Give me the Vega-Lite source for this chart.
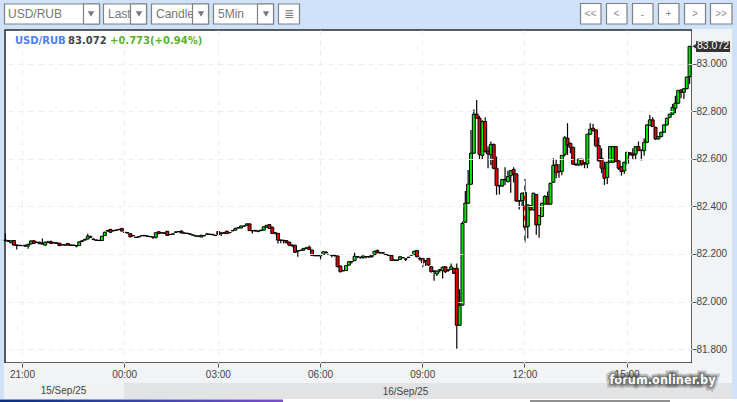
{"$schema":"https://vega.github.io/schema/vega-lite/v6.json","width":687,"height":333,"autosize":{"type":"none"},"padding":{"left":5,"top":30,"right":45,"bottom":39},"background":"#cfe2f9","view":{"fill":"#ffffff","stroke":"#2a2a2a","strokeWidth":1.5},
"data":{"values":[
{"t":"20:30","o":82.258,"h":82.286,"l":82.251,"c":82.256},{"t":"20:35","o":82.256,"h":82.258,"l":82.253,"c":82.253},{"t":"20:40","o":82.247,"h":82.256,"l":82.245,"c":82.255},{"t":"20:45","o":82.256,"h":82.258,"l":82.235,"c":82.237},{"t":"20:50","o":82.237,"h":82.24,"l":82.219,"c":82.236},{"t":"20:55","o":82.236,"h":82.238,"l":82.232,"c":82.235},
{"t":"21:00","o":82.235,"h":82.239,"l":82.232,"c":82.236},{"t":"21:05","o":82.236,"h":82.238,"l":82.229,"c":82.233},{"t":"21:10","o":82.233,"h":82.243,"l":82.222,"c":82.24},{"t":"21:15","o":82.242,"h":82.257,"l":82.24,"c":82.254},{"t":"21:20","o":82.255,"h":82.258,"l":82.243,"c":82.244},{"t":"21:25","o":82.248,"h":82.252,"l":82.246,"c":82.249},
{"t":"21:30","o":82.249,"h":82.251,"l":82.241,"c":82.243},{"t":"21:35","o":82.243,"h":82.265,"l":82.24,"c":82.242},{"t":"21:40","o":82.237,"h":82.252,"l":82.235,"c":82.249},{"t":"21:45","o":82.249,"h":82.255,"l":82.247,"c":82.25},{"t":"21:50","o":82.251,"h":82.256,"l":82.243,"c":82.244},{"t":"21:55","o":82.248,"h":82.25,"l":82.245,"c":82.246},
{"t":"22:00","o":82.246,"h":82.248,"l":82.242,"c":82.244},{"t":"22:05","o":82.245,"h":82.247,"l":82.233,"c":82.235},{"t":"22:10","o":82.239,"h":82.241,"l":82.236,"c":82.238},{"t":"22:15","o":82.238,"h":82.24,"l":82.235,"c":82.237},{"t":"22:20","o":82.244,"h":82.246,"l":82.236,"c":82.237},{"t":"22:25","o":82.237,"h":82.239,"l":82.235,"c":82.236},
{"t":"22:30","o":82.237,"h":82.238,"l":82.234,"c":82.236},{"t":"22:35","o":82.235,"h":82.237,"l":82.228,"c":82.233},{"t":"22:40","o":82.235,"h":82.253,"l":82.233,"c":82.25},{"t":"22:45","o":82.252,"h":82.258,"l":82.25,"c":82.255},{"t":"22:50","o":82.258,"h":82.264,"l":82.256,"c":82.261},{"t":"22:55","o":82.263,"h":82.285,"l":82.261,"c":82.275},
{"t":"23:00","o":82.272,"h":82.277,"l":82.267,"c":82.27},{"t":"23:05","o":82.262,"h":82.266,"l":82.26,"c":82.26},{"t":"23:10","o":82.258,"h":82.26,"l":82.255,"c":82.257},{"t":"23:15","o":82.256,"h":82.259,"l":82.254,"c":82.257},{"t":"23:20","o":82.256,"h":82.276,"l":82.254,"c":82.274},{"t":"23:25","o":82.277,"h":82.293,"l":82.275,"c":82.291},
{"t":"23:30","o":82.296,"h":82.301,"l":82.294,"c":82.298},{"t":"23:35","o":82.303,"h":82.305,"l":82.289,"c":82.291},{"t":"23:40","o":82.297,"h":82.3,"l":82.295,"c":82.298},{"t":"23:45","o":82.299,"h":82.303,"l":82.297,"c":82.3},{"t":"23:50","o":82.302,"h":82.305,"l":82.3,"c":82.303},{"t":"23:55","o":82.307,"h":82.309,"l":82.295,"c":82.296},
{"t":"00:00","o":82.291,"h":82.292,"l":82.289,"c":82.29},{"t":"00:20","o":82.289,"h":82.29,"l":82.286,"c":82.288},{"t":"00:25","o":82.285,"h":82.286,"l":82.27,"c":82.272},{"t":"00:30","o":82.277,"h":82.279,"l":82.274,"c":82.276},{"t":"00:35","o":82.27,"h":82.272,"l":82.268,"c":82.269},{"t":"00:40","o":82.271,"h":82.274,"l":82.27,"c":82.272},
{"t":"00:45","o":82.276,"h":82.279,"l":82.275,"c":82.277},{"t":"00:50","o":82.276,"h":82.279,"l":82.275,"c":82.278},{"t":"00:55","o":82.275,"h":82.277,"l":82.273,"c":82.274},{"t":"01:00","o":82.272,"h":82.275,"l":82.271,"c":82.273},{"t":"01:05","o":82.271,"h":82.273,"l":82.263,"c":82.27},{"t":"01:10","o":82.27,"h":82.291,"l":82.265,"c":82.289},
{"t":"01:15","o":82.293,"h":82.295,"l":82.284,"c":82.285},{"t":"01:20","o":82.289,"h":82.291,"l":82.287,"c":82.288},{"t":"01:25","o":82.288,"h":82.289,"l":82.286,"c":82.287},{"t":"01:30","o":82.295,"h":82.296,"l":82.276,"c":82.278},{"t":"01:35","o":82.282,"h":82.284,"l":82.279,"c":82.281},{"t":"01:40","o":82.283,"h":82.286,"l":82.282,"c":82.284},
{"t":"01:45","o":82.291,"h":82.294,"l":82.29,"c":82.292},{"t":"01:50","o":82.293,"h":82.296,"l":82.292,"c":82.294},{"t":"01:55","o":82.296,"h":82.298,"l":82.287,"c":82.288},{"t":"02:00","o":82.288,"h":82.289,"l":82.286,"c":82.287},{"t":"02:05","o":82.287,"h":82.288,"l":82.284,"c":82.286},{"t":"02:10","o":82.284,"h":82.286,"l":82.282,"c":82.283},
{"t":"02:15","o":82.28,"h":82.282,"l":82.278,"c":82.279},{"t":"02:20","o":82.276,"h":82.278,"l":82.274,"c":82.275},{"t":"02:25","o":82.275,"h":82.276,"l":82.272,"c":82.274},{"t":"02:30","o":82.271,"h":82.28,"l":82.27,"c":82.278},{"t":"02:35","o":82.276,"h":82.279,"l":82.275,"c":82.277},{"t":"02:40","o":82.283,"h":82.287,"l":82.282,"c":82.284},
{"t":"02:45","o":82.283,"h":82.284,"l":82.281,"c":82.282},{"t":"02:50","o":82.282,"h":82.283,"l":82.279,"c":82.28},{"t":"02:55","o":82.278,"h":82.28,"l":82.276,"c":82.277},{"t":"03:00","o":82.294,"h":82.296,"l":82.28,"c":82.282},{"t":"03:05","o":82.288,"h":82.29,"l":82.275,"c":82.286},{"t":"03:10","o":82.287,"h":82.291,"l":82.286,"c":82.289},
{"t":"03:15","o":82.295,"h":82.297,"l":82.284,"c":82.285},{"t":"03:20","o":82.289,"h":82.292,"l":82.288,"c":82.29},{"t":"03:25","o":82.297,"h":82.3,"l":82.296,"c":82.298},{"t":"03:30","o":82.3,"h":82.31,"l":82.298,"c":82.307},{"t":"03:35","o":82.309,"h":82.313,"l":82.308,"c":82.31},{"t":"03:40","o":82.309,"h":82.319,"l":82.307,"c":82.317},
{"t":"03:45","o":82.316,"h":82.319,"l":82.314,"c":82.317},{"t":"03:50","o":82.32,"h":82.328,"l":82.318,"c":82.326},{"t":"03:55","o":82.326,"h":82.328,"l":82.296,"c":82.298},{"t":"04:00","o":82.298,"h":82.3,"l":82.286,"c":82.297},{"t":"04:05","o":82.299,"h":82.3,"l":82.293,"c":82.297},{"t":"04:10","o":82.295,"h":82.298,"l":82.291,"c":82.296},
{"t":"04:15","o":82.298,"h":82.302,"l":82.295,"c":82.3},{"t":"04:20","o":82.3,"h":82.316,"l":82.298,"c":82.314},{"t":"04:25","o":82.312,"h":82.322,"l":82.31,"c":82.32},{"t":"04:30","o":82.323,"h":82.325,"l":82.305,"c":82.307},{"t":"04:35","o":82.312,"h":82.314,"l":82.284,"c":82.286},{"t":"04:40","o":82.289,"h":82.291,"l":82.282,"c":82.288},
{"t":"04:45","o":82.286,"h":82.288,"l":82.244,"c":82.258},{"t":"04:50","o":82.258,"h":82.26,"l":82.245,"c":82.257},{"t":"04:55","o":82.257,"h":82.259,"l":82.244,"c":82.256},{"t":"05:00","o":82.256,"h":82.258,"l":82.245,"c":82.247},{"t":"05:05","o":82.249,"h":82.251,"l":82.232,"c":82.237},{"t":"05:10","o":82.237,"h":82.24,"l":82.228,"c":82.235},
{"t":"05:15","o":82.236,"h":82.238,"l":82.204,"c":82.207},{"t":"05:20","o":82.212,"h":82.215,"l":82.188,"c":82.213},{"t":"05:25","o":82.214,"h":82.217,"l":82.212,"c":82.215},{"t":"05:30","o":82.216,"h":82.225,"l":82.214,"c":82.223},{"t":"05:35","o":82.224,"h":82.228,"l":82.222,"c":82.225},{"t":"05:40","o":82.228,"h":82.235,"l":82.216,"c":82.219},
{"t":"05:45","o":82.216,"h":82.218,"l":82.192,"c":82.194},{"t":"05:50","o":82.193,"h":82.195,"l":82.191,"c":82.192},{"t":"05:55","o":82.193,"h":82.194,"l":82.191,"c":82.192},{"t":"06:00","o":82.193,"h":82.195,"l":82.177,"c":82.192},{"t":"06:05","o":82.198,"h":82.211,"l":82.196,"c":82.209},{"t":"06:10","o":82.206,"h":82.212,"l":82.203,"c":82.205},
{"t":"06:15","o":82.198,"h":82.2,"l":82.195,"c":82.197},{"t":"06:20","o":82.195,"h":82.196,"l":82.185,"c":82.194},{"t":"06:25","o":82.194,"h":82.195,"l":82.188,"c":82.193},{"t":"06:30","o":82.191,"h":82.193,"l":82.144,"c":82.146},{"t":"06:35","o":82.149,"h":82.151,"l":82.123,"c":82.125},{"t":"06:40","o":82.13,"h":82.131,"l":82.127,"c":82.129},
{"t":"06:45","o":82.13,"h":82.153,"l":82.128,"c":82.151},{"t":"06:50","o":82.153,"h":82.17,"l":82.151,"c":82.167},{"t":"06:55","o":82.167,"h":82.17,"l":82.16,"c":82.168},{"t":"07:00","o":82.172,"h":82.205,"l":82.17,"c":82.19},{"t":"07:05","o":82.188,"h":82.191,"l":82.183,"c":82.189},{"t":"07:10","o":82.186,"h":82.188,"l":82.18,"c":82.185},
{"t":"07:15","o":82.184,"h":82.193,"l":82.181,"c":82.191},{"t":"07:20","o":82.188,"h":82.191,"l":82.181,"c":82.189},{"t":"07:25","o":82.188,"h":82.19,"l":82.185,"c":82.187},{"t":"07:30","o":82.197,"h":82.199,"l":82.185,"c":82.188},{"t":"07:35","o":82.197,"h":82.213,"l":82.195,"c":82.211},{"t":"07:40","o":82.214,"h":82.218,"l":82.203,"c":82.205},
{"t":"07:45","o":82.206,"h":82.207,"l":82.202,"c":82.204},{"t":"07:50","o":82.205,"h":82.206,"l":82.198,"c":82.204},{"t":"07:55","o":82.198,"h":82.199,"l":82.195,"c":82.197},{"t":"08:00","o":82.195,"h":82.197,"l":82.192,"c":82.194},{"t":"08:05","o":82.194,"h":82.196,"l":82.171,"c":82.173},{"t":"08:10","o":82.174,"h":82.176,"l":82.171,"c":82.173},
{"t":"08:15","o":82.174,"h":82.175,"l":82.17,"c":82.173},{"t":"08:20","o":82.177,"h":82.19,"l":82.175,"c":82.188},{"t":"08:25","o":82.184,"h":82.187,"l":82.182,"c":82.185},{"t":"08:30","o":82.179,"h":82.181,"l":82.17,"c":82.178},{"t":"08:35","o":82.186,"h":82.188,"l":82.183,"c":82.185},{"t":"08:40","o":82.195,"h":82.198,"l":82.192,"c":82.196},
{"t":"08:45","o":82.197,"h":82.213,"l":82.195,"c":82.211},{"t":"08:50","o":82.214,"h":82.216,"l":82.186,"c":82.188},{"t":"08:55","o":82.18,"h":82.188,"l":82.172,"c":82.179},{"t":"09:00","o":82.181,"h":82.183,"l":82.144,"c":82.163},{"t":"09:05","o":82.171,"h":82.174,"l":82.149,"c":82.172},{"t":"09:10","o":82.181,"h":82.183,"l":82.151,"c":82.153},
{"t":"09:15","o":82.146,"h":82.148,"l":82.122,"c":82.125},{"t":"09:20","o":82.128,"h":82.13,"l":82.087,"c":82.127},{"t":"09:25","o":82.116,"h":82.13,"l":82.107,"c":82.128},{"t":"09:30","o":82.132,"h":82.135,"l":82.122,"c":82.133},{"t":"09:35","o":82.13,"h":82.147,"l":82.097,"c":82.144},{"t":"09:40","o":82.146,"h":82.148,"l":82.12,"c":82.125},
{"t":"09:45","o":82.132,"h":82.135,"l":82.125,"c":82.131},{"t":"09:50","o":82.135,"h":82.16,"l":82.133,"c":82.146},{"t":"09:55","o":82.139,"h":82.142,"l":82.116,"c":82.118},{"t":"10:00","o":82.139,"h":82.16,"l":81.801,"c":81.9},{"t":"10:05","o":81.9,"h":82.051,"l":81.898,"c":81.984},{"t":"10:10","o":81.985,"h":82.336,"l":81.983,"c":82.328},
{"t":"10:15","o":82.333,"h":82.464,"l":82.331,"c":82.413},{"t":"10:20","o":82.413,"h":82.553,"l":82.411,"c":82.493},{"t":"10:25","o":82.493,"h":82.721,"l":82.491,"c":82.623},{"t":"10:30","o":82.623,"h":82.807,"l":82.621,"c":82.787},{"t":"10:35","o":82.787,"h":82.847,"l":82.768,"c":82.77},{"t":"10:40","o":82.77,"h":82.78,"l":82.597,"c":82.618},
{"t":"10:45","o":82.614,"h":82.762,"l":82.595,"c":82.756},{"t":"10:50","o":82.756,"h":82.774,"l":82.626,"c":82.63},{"t":"10:55","o":82.632,"h":82.651,"l":82.56,"c":82.62},{"t":"11:00","o":82.616,"h":82.672,"l":82.574,"c":82.66},{"t":"11:05","o":82.66,"h":82.664,"l":82.556,"c":82.56},{"t":"11:10","o":82.56,"h":82.609,"l":82.448,"c":82.487},
{"t":"11:15","o":82.488,"h":82.49,"l":82.45,"c":82.485},{"t":"11:20","o":82.485,"h":82.515,"l":82.483,"c":82.513},{"t":"11:25","o":82.513,"h":82.564,"l":82.49,"c":82.511},{"t":"11:30","o":82.504,"h":82.549,"l":82.5,"c":82.525},{"t":"11:35","o":82.529,"h":82.552,"l":82.457,"c":82.55},{"t":"11:40","o":82.555,"h":82.564,"l":82.5,"c":82.536},
{"t":"11:45","o":82.536,"h":82.538,"l":82.42,"c":82.422},{"t":"11:50","o":82.423,"h":82.425,"l":82.387,"c":82.422},{"t":"11:55","o":82.424,"h":82.457,"l":82.396,"c":82.455},{"t":"12:00","o":82.458,"h":82.515,"l":82.248,"c":82.312},{"t":"12:05","o":82.315,"h":82.408,"l":82.266,"c":82.406},{"t":"12:10","o":82.403,"h":82.405,"l":82.382,"c":82.385},
{"t":"12:15","o":82.385,"h":82.457,"l":82.383,"c":82.455},{"t":"12:20","o":82.45,"h":82.452,"l":82.28,"c":82.322},{"t":"12:25","o":82.322,"h":82.362,"l":82.268,"c":82.36},{"t":"12:30","o":82.357,"h":82.415,"l":82.355,"c":82.413},{"t":"12:35","o":82.41,"h":82.448,"l":82.408,"c":82.441},{"t":"12:40","o":82.441,"h":82.462,"l":82.407,"c":82.409},
{"t":"12:45","o":82.409,"h":82.499,"l":82.407,"c":82.497},{"t":"12:50","o":82.501,"h":82.602,"l":82.499,"c":82.572},{"t":"12:55","o":82.575,"h":82.596,"l":82.518,"c":82.541},{"t":"13:00","o":82.546,"h":82.578,"l":82.52,"c":82.545},{"t":"13:05","o":82.547,"h":82.616,"l":82.531,"c":82.614},{"t":"13:10","o":82.618,"h":82.695,"l":82.609,"c":82.688},
{"t":"13:15","o":82.686,"h":82.749,"l":82.616,"c":82.658},{"t":"13:20","o":82.665,"h":82.667,"l":82.623,"c":82.648},{"t":"13:25","o":82.648,"h":82.65,"l":82.575,"c":82.577},{"t":"13:30","o":82.577,"h":82.58,"l":82.57,"c":82.574},{"t":"13:35","o":82.574,"h":82.6,"l":82.569,"c":82.598},{"t":"13:40","o":82.598,"h":82.6,"l":82.57,"c":82.577},
{"t":"13:45","o":82.583,"h":82.585,"l":82.56,"c":82.577},{"t":"13:50","o":82.578,"h":82.705,"l":82.56,"c":82.703},{"t":"13:55","o":82.703,"h":82.749,"l":82.7,"c":82.724},{"t":"14:00","o":82.728,"h":82.746,"l":82.715,"c":82.717},{"t":"14:05","o":82.721,"h":82.723,"l":82.648,"c":82.655},{"t":"14:10","o":82.655,"h":82.69,"l":82.588,"c":82.591},
{"t":"14:15","o":82.602,"h":82.644,"l":82.539,"c":82.56},{"t":"14:20","o":82.56,"h":82.588,"l":82.49,"c":82.518},{"t":"14:25","o":82.521,"h":82.587,"l":82.494,"c":82.585},{"t":"14:30","o":82.585,"h":82.653,"l":82.583,"c":82.651},{"t":"14:35","o":82.585,"h":82.653,"l":82.583,"c":82.651},{"t":"14:40","o":82.651,"h":82.653,"l":82.586,"c":82.588},
{"t":"14:45","o":82.591,"h":82.593,"l":82.553,"c":82.56},{"t":"14:50","o":82.567,"h":82.569,"l":82.529,"c":82.546},{"t":"14:55","o":82.549,"h":82.587,"l":82.537,"c":82.585},{"t":"15:00","o":82.581,"h":82.629,"l":82.579,"c":82.627},{"t":"15:05","o":82.625,"h":82.627,"l":82.612,"c":82.618},{"t":"15:10","o":82.62,"h":82.644,"l":82.595,"c":82.614},
{"t":"15:15","o":82.619,"h":82.653,"l":82.598,"c":82.651},{"t":"15:20","o":82.651,"h":82.672,"l":82.632,"c":82.634},{"t":"15:25","o":82.635,"h":82.64,"l":82.592,"c":82.634},{"t":"15:30","o":82.634,"h":82.686,"l":82.612,"c":82.669},{"t":"15:35","o":82.669,"h":82.744,"l":82.667,"c":82.742},{"t":"15:40","o":82.739,"h":82.784,"l":82.737,"c":82.763},
{"t":"15:45","o":82.763,"h":82.774,"l":82.733,"c":82.735},{"t":"15:50","o":82.732,"h":82.734,"l":82.679,"c":82.683},{"t":"15:55","o":82.683,"h":82.695,"l":82.681,"c":82.693},{"t":"16:00","o":82.693,"h":82.713,"l":82.69,"c":82.711},{"t":"16:05","o":82.711,"h":82.744,"l":82.709,"c":82.742},{"t":"16:10","o":82.742,"h":82.772,"l":82.74,"c":82.77},
{"t":"16:15","o":82.774,"h":82.789,"l":82.77,"c":82.787},{"t":"16:20","o":82.787,"h":82.83,"l":82.785,"c":82.816},{"t":"16:25","o":82.812,"h":82.865,"l":82.791,"c":82.833},{"t":"16:30","o":82.833,"h":82.889,"l":82.831,"c":82.887},{"t":"16:35","o":82.889,"h":82.891,"l":82.854,"c":82.879},{"t":"16:40","o":82.879,"h":82.896,"l":82.851,"c":82.894},
{"t":"16:45","o":82.894,"h":82.945,"l":82.892,"c":82.943},{"t":"16:50","o":82.945,"h":83.074,"l":82.914,"c":83.072}
]},
"layer":[
{"data":{"values":[{}]},"mark":{"type":"rect","fill":"#f2f3f5"},"encoding":{"x":{"value":687},"x2":{"value":727},"y":{"value":-1},"y2":{"value":333}}},
{"data":{"values":[{}]},"mark":{"type":"rect","fill":"#f2f3f5"},"encoding":{"x":{"value":-1},"x2":{"value":727},"y":{"value":333},"y2":{"value":353}}},
{"data":{"values":[{}]},"mark":{"type":"rect","fill":"#f0f1f2"},"encoding":{"x":{"value":-1},"x2":{"value":119},"y":{"value":353},"y2":{"value":369}}},
{"data":{"values":[{}]},"mark":{"type":"rect","fill":"#e2e3e5"},"encoding":{"x":{"value":119},"x2":{"value":727},"y":{"value":353},"y2":{"value":369}}},
{"data":{"values":[{}]},"mark":{"type":"rect","fill":"#ffffff"},"encoding":{"x":{"value":-5},"x2":{"value":732},"y":{"value":369},"y2":{"value":372}}},
{"data":{"values":[{}]},"mark":{"type":"rect","fill":{"gradient":"linear","x1":0,"y1":0,"x2":1,"y2":0,"stops":[{"offset":0,"color":"#0a2f7f"},{"offset":0.5,"color":"#3a46a8"},{"offset":1,"color":"#7a4fd0"}]}},"encoding":{"x":{"value":-5},"x2":{"value":278},"y":{"value":369.5},"y2":{"value":372}}},
{"data":{"values":[{}]},"mark":{"type":"rect","fill":"#8f8f8f"},"encoding":{"x":{"value":525},"x2":{"value":665},"y":{"value":370},"y2":{"value":372}}},

{"encoding":{
"x":{"field":"t","type":"nominal","sort":null,"scale":{"type":"band","range":[-1,686]},"axis":{"title":null,"orient":"bottom","values":["21:00","00:00","03:00","06:00","09:00","12:00","15:00"],"labelAngle":0,"labelFont":"Liberation Sans","labelFontSize":10,"labelColor":"#444444","labelPadding":2,"tickSize":4,"tickColor":"#555555","domain":false,"grid":true,"gridColor":"#ececec","gridDash":[5,5],"gridWidth":1,"labelOverlap":false,"zindex":1}},
"y":{"field":"l","type":"quantitative","scale":{"domain":[81.7416,83.1408],"nice":false,"zero":false},"axis":{"title":null,"orient":"right","values":[81.8,82,82.2,82.4,82.6,82.8,83],"format":".3f","labelFont":"Liberation Sans","labelFontSize":10,"labelColor":"#444444","labelPadding":0,"tickSize":4,"tickColor":"#555555","domain":false,"grid":true,"gridColor":"#ececec","gridDash":[5,5],"gridWidth":1,"labelOverlap":false,"zindex":1}}},
"layer":[
{"mark":{"type":"rule","color":"#000000","strokeWidth":1.2},"encoding":{"y2":{"field":"h"}}},
{"mark":{"type":"bar","size":3,"stroke":"#000000","strokeWidth":1},"encoding":{"y":{"field":"o","type":"quantitative"},"y2":{"field":"c"},"fill":{"condition":{"test":"datum.c>=datum.o","value":"#00e600"},"value":"#e60000"}}}
]},

{"data":{"values":[{"a":83.094,"b":83.048,"p":83.072,"s":"83.072"}]},"layer":[
{"mark":{"type":"rect","fill":"#333333"},"encoding":{"x":{"value":691},"x2":{"value":725},"y":{"field":"a","type":"quantitative"},"y2":{"field":"b"}}},
{"mark":{"type":"point","shape":"triangle-left","filled":true,"color":"#333333","size":28,"opacity":1},"encoding":{"x":{"value":689.5},"y":{"field":"p","type":"quantitative"}}},
{"mark":{"type":"text","align":"left","baseline":"middle","font":"Liberation Sans","fontSize":10.5,"color":"#ffffff"},"encoding":{"x":{"value":692},"y":{"field":"p","type":"quantitative"},"text":{"field":"s"}}}
]},

{"data":{"values":[{"s":"USD/RUB"}]},"mark":{"type":"text","align":"left","baseline":"middle","font":"DejaVu Sans","fontWeight":"bold","fontSize":10,"color":"#4d80f0"},"encoding":{"x":{"value":10},"y":{"value":10.5},"text":{"field":"s"}}},
{"data":{"values":[{"s":"83.072"}]},"mark":{"type":"text","align":"left","baseline":"middle","font":"DejaVu Sans","fontWeight":"bold","fontSize":10,"color":"#444444"},"encoding":{"x":{"value":63},"y":{"value":10.5},"text":{"field":"s"}}},
{"data":{"values":[{"s":"+0.773(+0.94%)"}]},"mark":{"type":"text","align":"left","baseline":"middle","font":"DejaVu Sans","fontWeight":"bold","fontSize":10,"color":"#5cb02c"},"encoding":{"x":{"value":105},"y":{"value":10.5},"text":{"field":"s"}}},
{"data":{"values":[{"s":"15/Sep/25"}]},"mark":{"type":"text","align":"center","baseline":"middle","font":"Liberation Sans","fontSize":10,"color":"#444444"},"encoding":{"x":{"value":58.5},"y":{"value":361},"text":{"field":"s"}}},
{"data":{"values":[{"s":"16/Sep/25"}]},"mark":{"type":"text","align":"center","baseline":"middle","font":"Liberation Sans","fontSize":10,"color":"#444444"},"encoding":{"x":{"value":400.5},"y":{"value":361.5},"text":{"field":"s"}}},

{"data":{"values":[{}]},"mark":{"type":"rect","fill":"#ffffff","stroke":"#808080","strokeWidth":1.2},"encoding":{"x":{"value":-0.5},"x2":{"value":94.5},"y":{"value":-26},"y2":{"value":-6}}},
{"data":{"values":[{"s":"USD/RUB"}]},"mark":{"type":"text","align":"left","baseline":"middle","font":"Liberation Sans","fontSize":12,"color":"#777777"},"encoding":{"x":{"value":3},"y":{"value":-16},"text":{"field":"s"}}},
{"data":{"values":[{}]},"mark":{"type":"rect","fill":"#ffffff","stroke":"#808080","strokeWidth":1.2},"encoding":{"x":{"value":78.5},"x2":{"value":94.5},"y":{"value":-26},"y2":{"value":-6}}},
{"data":{"values":[{}]},"mark":{"type":"point","shape":"triangle-down","filled":true,"color":"#777777","size":40,"opacity":1},"encoding":{"x":{"value":86},"y":{"value":-16}}},

{"data":{"values":[{}]},"mark":{"type":"rect","fill":"#ffffff","stroke":"#808080","strokeWidth":1.2},"encoding":{"x":{"value":98.5},"x2":{"value":141.5},"y":{"value":-26},"y2":{"value":-6}}},
{"data":{"values":[{"s":"Last"}]},"mark":{"type":"text","align":"left","baseline":"middle","font":"Liberation Sans","fontSize":12,"color":"#777777"},"encoding":{"x":{"value":103},"y":{"value":-16},"text":{"field":"s"}}},
{"data":{"values":[{}]},"mark":{"type":"rect","fill":"#ffffff","stroke":"#808080","strokeWidth":1.2},"encoding":{"x":{"value":125.5},"x2":{"value":141.5},"y":{"value":-26},"y2":{"value":-6}}},
{"data":{"values":[{}]},"mark":{"type":"point","shape":"triangle-down","filled":true,"color":"#777777","size":40,"opacity":1},"encoding":{"x":{"value":134},"y":{"value":-16}}},

{"data":{"values":[{}]},"mark":{"type":"rect","fill":"#ffffff","stroke":"#808080","strokeWidth":1.2},"encoding":{"x":{"value":146.5},"x2":{"value":203.5},"y":{"value":-26},"y2":{"value":-6}}},
{"data":{"values":[{"s":"Candle"}]},"mark":{"type":"text","align":"left","baseline":"middle","font":"Liberation Sans","fontSize":12,"color":"#777777"},"encoding":{"x":{"value":151},"y":{"value":-16},"text":{"field":"s"}}},
{"data":{"values":[{}]},"mark":{"type":"rect","fill":"#ffffff","stroke":"#808080","strokeWidth":1.2},"encoding":{"x":{"value":187.5},"x2":{"value":203.5},"y":{"value":-26},"y2":{"value":-6}}},
{"data":{"values":[{}]},"mark":{"type":"point","shape":"triangle-down","filled":true,"color":"#777777","size":40,"opacity":1},"encoding":{"x":{"value":196},"y":{"value":-16}}},

{"data":{"values":[{}]},"mark":{"type":"rect","fill":"#ffffff","stroke":"#808080","strokeWidth":1.2},"encoding":{"x":{"value":208.5},"x2":{"value":268.5},"y":{"value":-26},"y2":{"value":-6}}},
{"data":{"values":[{"s":"5Min"}]},"mark":{"type":"text","align":"left","baseline":"middle","font":"Liberation Sans","fontSize":12,"color":"#777777"},"encoding":{"x":{"value":213},"y":{"value":-16},"text":{"field":"s"}}},
{"data":{"values":[{}]},"mark":{"type":"rect","fill":"#ffffff","stroke":"#808080","strokeWidth":1.2},"encoding":{"x":{"value":252.5},"x2":{"value":268.5},"y":{"value":-26},"y2":{"value":-6}}},
{"data":{"values":[{}]},"mark":{"type":"point","shape":"triangle-down","filled":true,"color":"#777777","size":40,"opacity":1},"encoding":{"x":{"value":261},"y":{"value":-16}}},

{"data":{"values":[{}]},"mark":{"type":"rect","fill":"#ffffff","stroke":"#808080","strokeWidth":1.2},"encoding":{"x":{"value":273.5},"x2":{"value":294.5},"y":{"value":-26},"y2":{"value":-6}}},
{"data":{"values":[{"s":"≣"}]},"mark":{"type":"text","align":"center","baseline":"middle","font":"DejaVu Sans","fontSize":12,"color":"#777777"},"encoding":{"x":{"value":284},"y":{"value":-16},"text":{"field":"s"}}},

{"data":{"values":[{}]},"mark":{"type":"rect","fill":"#ffffff","stroke":"#808080","strokeWidth":1.2},"encoding":{"x":{"value":575.5},"x2":{"value":596},"y":{"value":-26.5},"y2":{"value":-6}}},
{"data":{"values":[{"s":"<<"}]},"mark":{"type":"text","align":"center","baseline":"middle","font":"Liberation Sans","fontSize":10,"color":"#8a8a8a"},"encoding":{"x":{"value":585.5},"y":{"value":-16},"text":{"field":"s"}}},
{"data":{"values":[{}]},"mark":{"type":"rect","fill":"#ffffff","stroke":"#808080","strokeWidth":1.2},"encoding":{"x":{"value":601.5},"x2":{"value":622},"y":{"value":-26.5},"y2":{"value":-6}}},
{"data":{"values":[{"s":"<"}]},"mark":{"type":"text","align":"center","baseline":"middle","font":"Liberation Sans","fontSize":10,"color":"#8a8a8a"},"encoding":{"x":{"value":611.5},"y":{"value":-16},"text":{"field":"s"}}},
{"data":{"values":[{}]},"mark":{"type":"rect","fill":"#ffffff","stroke":"#808080","strokeWidth":1.2},"encoding":{"x":{"value":627.5},"x2":{"value":648},"y":{"value":-26.5},"y2":{"value":-6}}},
{"data":{"values":[{"s":"-"}]},"mark":{"type":"text","align":"center","baseline":"middle","font":"Liberation Sans","fontSize":10,"color":"#8a8a8a"},"encoding":{"x":{"value":637.5},"y":{"value":-15},"text":{"field":"s"}}},
{"data":{"values":[{}]},"mark":{"type":"rect","fill":"#ffffff","stroke":"#808080","strokeWidth":1.2},"encoding":{"x":{"value":653.5},"x2":{"value":674},"y":{"value":-26.5},"y2":{"value":-6}}},
{"data":{"values":[{"s":"+"}]},"mark":{"type":"text","align":"center","baseline":"middle","font":"Liberation Sans","fontSize":10,"color":"#8a8a8a"},"encoding":{"x":{"value":663.5},"y":{"value":-16},"text":{"field":"s"}}},
{"data":{"values":[{}]},"mark":{"type":"rect","fill":"#ffffff","stroke":"#808080","strokeWidth":1.2},"encoding":{"x":{"value":679.5},"x2":{"value":700.5},"y":{"value":-26.5},"y2":{"value":-6}}},
{"data":{"values":[{"s":">"}]},"mark":{"type":"text","align":"center","baseline":"middle","font":"Liberation Sans","fontSize":10,"color":"#8a8a8a"},"encoding":{"x":{"value":690},"y":{"value":-16},"text":{"field":"s"}}},
{"data":{"values":[{}]},"mark":{"type":"rect","fill":"#ffffff","stroke":"#808080","strokeWidth":1.2},"encoding":{"x":{"value":705.5},"x2":{"value":727},"y":{"value":-26.5},"y2":{"value":-6}}},
{"data":{"values":[{"s":">>"}]},"mark":{"type":"text","align":"center","baseline":"middle","font":"Liberation Sans","fontSize":10,"color":"#8a8a8a"},"encoding":{"x":{"value":716},"y":{"value":-16},"text":{"field":"s"}}},

{"data":{"values":[{"s":"forum.onliner.by"}]},"mark":{"type":"text","align":"center","baseline":"middle","font":"DejaVu Sans","fontWeight":"bold","fontSize":11.4,"stroke":"#333333","strokeWidth":7,"strokeOpacity":0.25,"fill":"#555555"},"encoding":{"x":{"value":657.5},"y":{"value":351},"text":{"field":"s"}}},
{"data":{"values":[{"s":"forum.onliner.by"}]},"mark":{"type":"text","align":"center","baseline":"middle","font":"DejaVu Sans","fontWeight":"bold","fontSize":11.4,"stroke":"#444444","strokeWidth":3,"strokeOpacity":0.45,"fill":"#555555"},"encoding":{"x":{"value":657.5},"y":{"value":351},"text":{"field":"s"}}},
{"data":{"values":[{"s":"forum.onliner.by"}]},"mark":{"type":"text","align":"center","baseline":"middle","font":"DejaVu Sans","fontWeight":"bold","fontSize":11.4,"color":"#ffffff"},"encoding":{"x":{"value":657.5},"y":{"value":351},"text":{"field":"s"}}}
]}
